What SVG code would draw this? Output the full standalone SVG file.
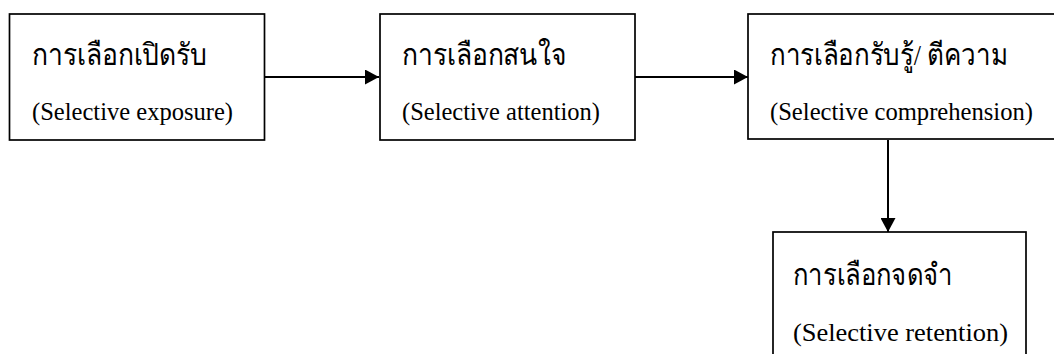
<svg xmlns="http://www.w3.org/2000/svg" width="1054" height="354" viewBox="0 0 1054 354">
<style>
.box{fill:#fff;stroke:#000;stroke-width:1.7}
.th{font-family:"Liberation Serif","Noto Sans",serif;font-size:30px;fill:#000}
.en{font-family:"Liberation Serif",serif;font-size:24.5px;fill:#000}
.con{stroke:#000;stroke-width:2;fill:none}
</style>
<defs>
<marker id="ah" viewBox="0 0 14 15" refX="14" refY="7.5" markerWidth="14" markerHeight="15" markerUnits="userSpaceOnUse" orient="auto">
<path d="M0,0 L14,7.5 L0,15 Z" fill="#000"/>
</marker>
</defs>
<rect width="1054" height="354" fill="#fff"/>
<g id="connectors">
<line class="con" x1="265" y1="77" x2="379" y2="77" marker-end="url(#ah)"/>
<line class="con" x1="635" y1="77" x2="748" y2="77" marker-end="url(#ah)"/>
<line class="con" x1="888" y1="140" x2="888" y2="232" marker-end="url(#ah)"/>
</g>
<g id="n1">
<rect class="box" x="9.5" y="14" width="255" height="126"/>
<text class="th" x="32" y="65" textLength="175" lengthAdjust="spacingAndGlyphs">การเลือกเปิดรับ</text>
<text class="en" x="32" y="120" textLength="201" lengthAdjust="spacingAndGlyphs">(Selective exposure)</text>
</g>
<g id="n2">
<rect class="box" x="380" y="14" width="255" height="126"/>
<text class="th" x="402" y="65" textLength="165" lengthAdjust="spacingAndGlyphs">การเลือกสนใจ</text>
<text class="en" x="402" y="120" textLength="198" lengthAdjust="spacingAndGlyphs">(Selective attention)</text>
</g>
<g id="n3">
<rect class="box" x="748" y="14" width="310" height="125"/>
<text class="th" x="770" y="65" textLength="238" lengthAdjust="spacingAndGlyphs">การเลือกรับรู้/ ตีความ</text>
<text class="en" x="770" y="120" textLength="263" lengthAdjust="spacingAndGlyphs">(Selective comprehension)</text>
</g>
<g id="n4">
<rect class="box" x="773" y="232" width="253" height="130"/>
<text class="th" x="793" y="285" textLength="160" lengthAdjust="spacingAndGlyphs">การเลือกจดจำ</text>
<text class="en" x="793" y="341" textLength="215" lengthAdjust="spacingAndGlyphs">(Selective retention)</text>
</g>
</svg>
